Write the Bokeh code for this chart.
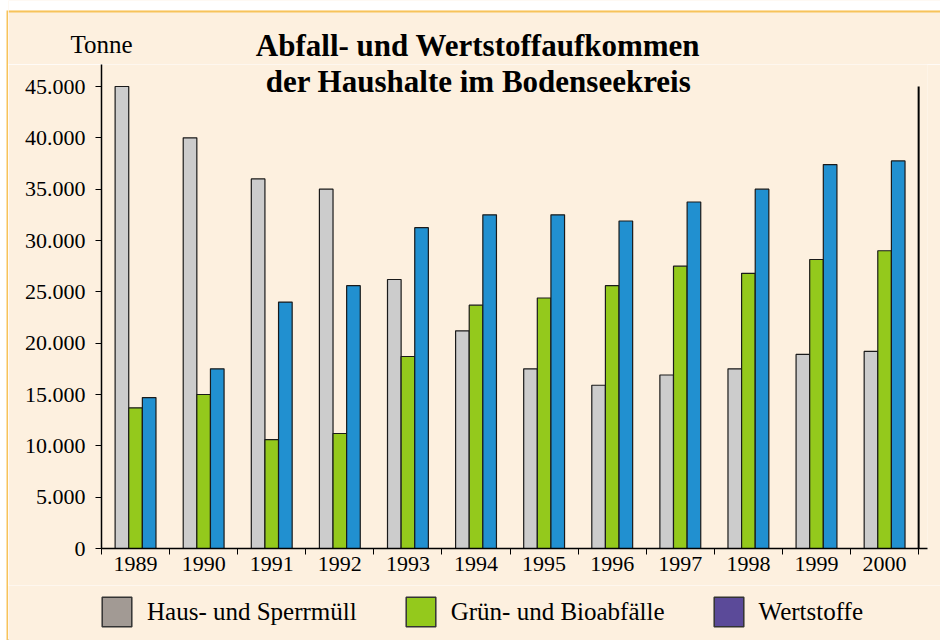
from bokeh.plotting import figure
from bokeh.layouts import column, row
from bokeh.models import (Range1d, FixedTicker, Label, Legend, LegendItem,
                          ColumnDataSource, LinearAxis)
from bokeh.embed import file_html
from bokeh.resources import INLINE

# ---------------- data ----------------
years = ["1989", "1990", "1991", "1992", "1993", "1994",
         "1995", "1996", "1997", "1998", "1999", "2000"]
haus = [45000, 40000, 36000, 35000, 26200, 21200,
        17500, 15900, 16900, 17500, 18900, 19200]
gruen = [13700, 15000, 10600, 11200, 18700, 23700,
         24400, 25600, 27500, 26800, 28150, 29000]
wert = [14700, 17500, 24000, 25600, 31250, 32500,
        32500, 31900, 33750, 35000, 37400, 37750]
y_ticks = [0, 5000, 10000, 15000, 20000, 25000, 30000, 35000, 40000, 45000]
y_tick_labels = ["0", "5.000", "10.000", "15.000", "20.000", "25.000",
                 "30.000", "35.000", "40.000", "45.000"]
series_names = ["Haus- und Sperrmüll", "Grün- und Bioabfälle", "Wertstoffe"]
title_lines = ["Abfall- und Wertstoffaufkommen", "der Haushalte im Bodenseekreis"]
unit_label = "Tonne"

# ---------------- styles ----------------
CREAM = "#FDF0DF"
ORANGE = "#F7C35B"
bar_colors = ["#CCCCCC", "#94C91C", "#2190D0"]
legend_colors = ["#A29A94", "#94C91C", "#5B4A99"]
FONT = "Liberation Serif"
BAR_W = 0.2
TITLE_SIZE = "31px"

n = len(years)
centers = [i + 0.5 for i in range(n)]


def blank(width, height, xr, yr, bg=CREAM):
    f = figure(width=width, height=height, output_backend="svg",
               toolbar_location=None, x_range=xr, y_range=yr,
               x_axis_type=None, y_axis_type=None, min_border=0,
               background_fill_color=bg, border_fill_color=bg,
               outline_line_color=None, frame_align=False)
    return f


# ---- left strip (white margin + orange frame line) ----
strip = blank(8, 640, Range1d(0, 8), Range1d(640, 0), bg="white")
strip.quad(left=[6], right=[8], top=[10], bottom=[640], fill_color=ORANGE,
           line_color=None)

# ---- top band: title line 1 and unit ----
top = blank(932, 64, Range1d(8, 940), Range1d(64, 0))
top.quad(left=[8], right=[940], top=[0], bottom=[10], fill_color="white",
         line_color=None)
top.quad(left=[8], right=[940], top=[10], bottom=[12], fill_color=ORANGE,
         line_color=None)
top.add_layout(Label(x=477.5, y=45, text=title_lines[0], text_align="center",
                     text_baseline="alphabetic", text_font=FONT,
                     text_font_size=TITLE_SIZE, text_font_style="bold",
                     text_color="black"))
top.add_layout(Label(x=101, y=44, text=unit_label, text_align="center",
                     text_baseline="alphabetic", text_font=FONT,
                     text_font_size="25px", text_color="black"))

# ---- main chart ----
p = figure(width=932, height=521, output_backend="svg", toolbar_location=None,
           x_range=Range1d(0, n + 0.13), y_range=Range1d(0, 47143),
           x_axis_type=None, y_axis_type=None,
           min_border_left=93, min_border_right=13, min_border_top=0,
           min_border_bottom=37,
           background_fill_color=CREAM, border_fill_color=CREAM,
           outline_line_color=None, frame_align=False)

xaxis = LinearAxis(
    ticker=FixedTicker(ticks=centers, minor_ticks=list(range(n + 1))),
    major_label_overrides={c: y for c, y in zip(centers, years)},
    major_tick_in=0, major_tick_out=0,
    minor_tick_in=0, minor_tick_out=6, minor_tick_line_color="black",
    axis_line_color="black", axis_line_width=1.5,
    major_label_text_font=FONT, major_label_text_font_size="22px",
    major_label_text_color="black", major_label_standoff=2)
yaxis = LinearAxis(
    ticker=FixedTicker(ticks=y_ticks),
    major_label_overrides={t: l for t, l in zip(y_ticks, y_tick_labels)},
    major_tick_in=0, major_tick_out=6, major_tick_line_color="black",
    minor_tick_in=0, minor_tick_out=0,
    axis_line_color="black", axis_line_width=1.5,
    major_label_text_font=FONT, major_label_text_font_size="22px",
    major_label_text_color="black", major_label_standoff=10)
p.add_layout(xaxis, "below")
p.add_layout(yaxis, "left")

src = ColumnDataSource(dict(
    x_h=[c - BAR_W for c in centers], x_g=centers, x_w=[c + BAR_W for c in centers],
    haus=haus, gruen=gruen, wert=wert))
for xcol, ycol, col in [("x_h", "haus", bar_colors[0]),
                        ("x_g", "gruen", bar_colors[1]),
                        ("x_w", "wert", bar_colors[2])]:
    p.vbar(x=xcol, top=ycol, bottom=0, width=BAR_W, source=src,
           fill_color=col, line_color="#1a1a1a", line_width=1.2)

# right frame line at the end of the category axis
p.segment(x0=[n], x1=[n], y0=[0], y1=[y_ticks[-1]], line_color="black",
          line_width=2)

p.add_layout(Label(x=377, y=467, x_units="screen", y_units="screen",
                   text=title_lines[1], text_align="center",
                   text_baseline="alphabetic", text_font=FONT,
                   text_font_size=TITLE_SIZE, text_font_style="bold",
                   text_color="black"))

# ---- legend band ----
leg = blank(932, 55, Range1d(0, 1), Range1d(0, 1))
items = []
for name, col in zip(series_names, legend_colors):
    # legend-only renderer: one zero-size bar outside the visible range
    r = leg.vbar(x=[-5], top=[0], bottom=[0], width=0, fill_color=col,
                 line_color="#333333", line_width=1.5)
    items.append(LegendItem(label=name, renderers=[r]))
legend = Legend(items=items, orientation="horizontal", location=(90, 10),
                glyph_width=37, glyph_height=37, label_standoff=12, spacing=45,
                padding=0, margin=0, border_line_color=None,
                background_fill_alpha=0,
                label_text_font=FONT, label_text_font_size="25px",
                label_text_color="black")
leg.add_layout(legend)

layout = row(strip, column(top, p, leg, spacing=0), spacing=0)

open("out.html", "w").write(file_html(layout, INLINE))
